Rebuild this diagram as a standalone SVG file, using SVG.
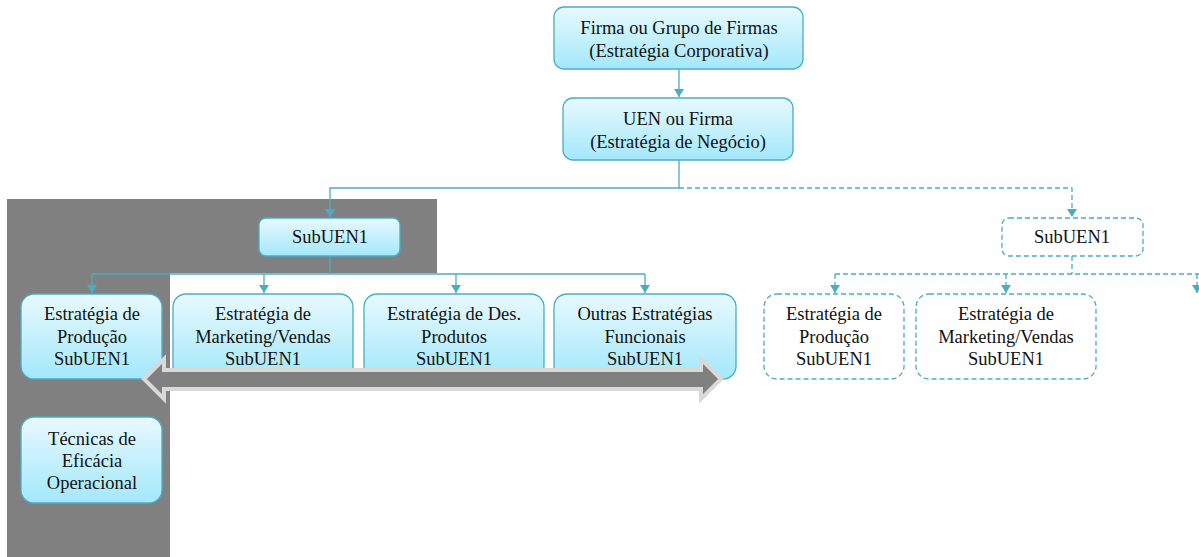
<svg xmlns="http://www.w3.org/2000/svg" width="1199" height="557" viewBox="0 0 1199 557">
  <style>
    .box { fill: url(#aqua); stroke: #4bacc6; stroke-width: 1.3; }
    .dbox { fill: #ffffff; stroke: #4bacc6; stroke-width: 1.3; stroke-dasharray: 5 3; }
    .ln { fill: none; stroke: #4bacc6; stroke-width: 1.3; }
    .dl { fill: none; stroke: #4bacc6; stroke-width: 1.3; stroke-dasharray: 5 3; }
  </style>
  <defs>
    <linearGradient id="aqua" x1="0" y1="0" x2="0" y2="1">
      <stop offset="0" stop-color="#e8f9fe"/>
      <stop offset="1" stop-color="#a3e8fb"/>
    </linearGradient>
    <marker id="down" viewBox="0 0 10 8" refX="5" refY="8" markerWidth="10" markerHeight="8" markerUnits="userSpaceOnUse" orient="0">
      <path d="M0,0 L10,0 L5,8 Z" fill="#4bacc6"/>
    </marker>
  </defs>

  <!-- shaded area behind SubUEN1 branch -->
  <path d="M7,199 H437 V273 H170 V557 H7 Z" fill="#808080"/>

  <!-- connectors -->
  <g id="connectors">
    <path class="ln" d="M679,69 V97" marker-end="url(#down)"/>
    <path class="ln" d="M679,160 V188 H330 V217" marker-end="url(#down)"/>
    <path class="dl" d="M679,188 H1072 V217" marker-end="url(#down)"/>
    <path class="ln" d="M330,256 V274"/>
    <path class="ln" d="M92,274 H645"/>
    <path class="ln" d="M92,274 V293" marker-end="url(#down)"/>
    <path class="ln" d="M264,274 V293" marker-end="url(#down)"/>
    <path class="ln" d="M456,274 V293" marker-end="url(#down)"/>
    <path class="ln" d="M645,274 V293" marker-end="url(#down)"/>
    <path class="dl" d="M1072,256 V274"/>
    <path class="dl" d="M835,274 H1199"/>
    <path class="dl" d="M835,274 V293" marker-end="url(#down)"/>
    <path class="dl" d="M1006,274 V293" marker-end="url(#down)"/>
    <path class="dl" d="M1197,274 V293" marker-end="url(#down)"/>
  </g>

  <g font-family="Liberation Serif, Times New Roman, serif" font-size="18.5" fill="#111111" text-anchor="middle">
  <g id="firma">
    <rect class="box" x="554" y="7" width="249" height="62" rx="10"/>
    <text x="679" y="34">Firma ou Grupo de Firmas</text>
    <text x="679" y="57">(Estratégia Corporativa)</text>
  </g>
  <g id="uen">
    <rect class="box" x="563" y="98" width="230" height="62" rx="10"/>
    <text x="678" y="125">UEN ou Firma</text>
    <text x="678" y="148">(Estratégia de Negócio)</text>
  </g>
  <g id="subuen-a">
    <rect class="box" x="259" y="218" width="141" height="38" rx="7"/>
    <text x="330" y="243">SubUEN1</text>
  </g>
  <g id="subuen-b">
    <rect class="dbox" x="1002" y="218" width="141" height="38" rx="7"/>
    <text x="1072" y="243">SubUEN1</text>
  </g>

  <g id="producao-a">
    <rect class="box" x="21" y="294" width="141" height="85" rx="13"/>
    <text x="92" y="320">Estratégia de</text>
    <text x="92" y="343">Produção</text>
    <text x="92" y="365">SubUEN1</text>
  </g>
  <g id="marketing-a">
    <rect class="box" x="173" y="294" width="180" height="85" rx="13"/>
    <text x="263" y="320">Estratégia de</text>
    <text x="263" y="343">Marketing/Vendas</text>
    <text x="263" y="365">SubUEN1</text>
  </g>
  <g id="produtos-a">
    <rect class="box" x="364" y="294" width="180" height="85" rx="13"/>
    <text x="454" y="320">Estratégia de Des.</text>
    <text x="454" y="343">Produtos</text>
    <text x="454" y="365">SubUEN1</text>
  </g>
  <g id="outras-a">
    <rect class="box" x="554" y="294" width="182" height="85" rx="13"/>
    <text x="645" y="320">Outras Estratégias</text>
    <text x="645" y="343">Funcionais</text>
    <text x="645" y="365">SubUEN1</text>
  </g>
  <g id="tecnicas">
    <rect class="box" x="21" y="417" width="141" height="86" rx="13"/>
    <text x="92" y="445">Técnicas de</text>
    <text x="92" y="467">Eficácia</text>
    <text x="92" y="489">Operacional</text>
  </g>

  <g id="producao-b">
    <rect class="dbox" x="764" y="294" width="140" height="85" rx="13"/>
    <text x="834" y="320">Estratégia de</text>
    <text x="834" y="343">Produção</text>
    <text x="834" y="365">SubUEN1</text>
  </g>
  <g id="marketing-b">
    <rect class="dbox" x="916" y="294" width="180" height="85" rx="13"/>
    <text x="1006" y="320">Estratégia de</text>
    <text x="1006" y="343">Marketing/Vendas</text>
    <text x="1006" y="365">SubUEN1</text>
  </g>
  </g>

  <!-- two-way block arrow across the functional strategies -->
  <g id="double-arrow">
    <path d="M144,379 L164,359 V370 H701 V359 L721,379 L701,399 V389 H164 V399 Z" fill="#808080" stroke="#d9d9d9" stroke-width="4" stroke-linejoin="miter"/>
  </g>
</svg>
